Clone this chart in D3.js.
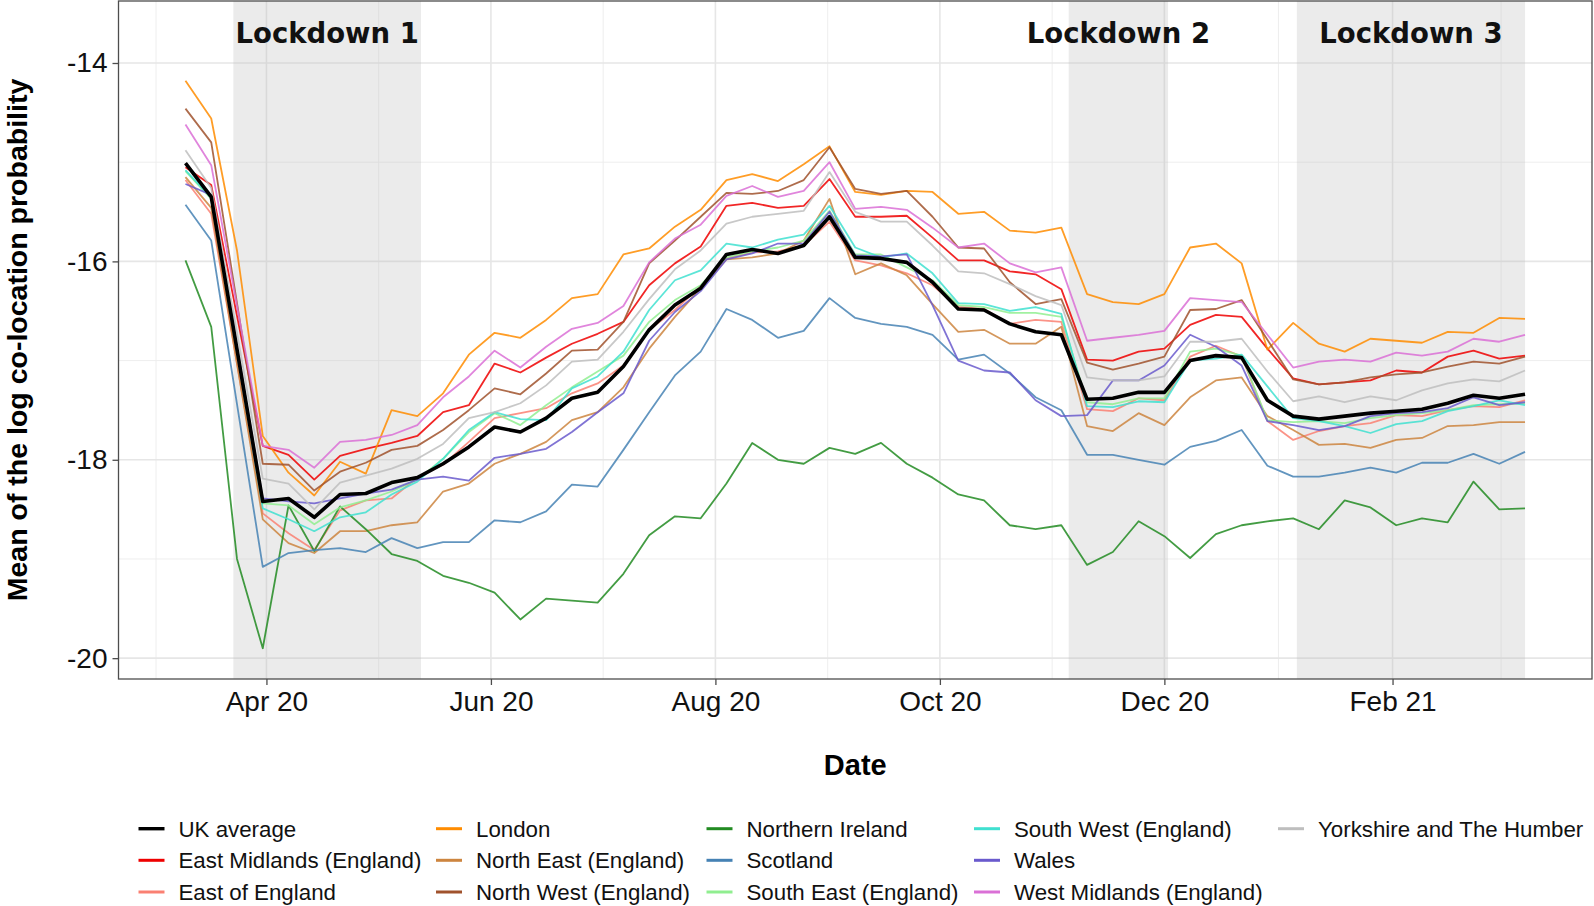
<!DOCTYPE html>
<html>
<head>
<meta charset="utf-8">
<script src="https://cdn.jsdelivr.net/npm/d3@7"></script>
<style>
  body { margin: 0; background: #fff; }
  svg { display: block; font-family: "Liberation Sans", Arial, sans-serif; }
</style>
</head>
<body>
<div id="chart"></div>
<script>
// weekly dates (Tuesdays) of the series
const dates = [
  "2020-03-10","2020-03-17","2020-03-24","2020-03-31","2020-04-07","2020-04-14","2020-04-21","2020-04-28",
  "2020-05-05","2020-05-12","2020-05-19","2020-05-26","2020-06-02","2020-06-09","2020-06-16","2020-06-23",
  "2020-06-30","2020-07-07","2020-07-14","2020-07-21","2020-07-28","2020-08-04","2020-08-11","2020-08-18",
  "2020-08-25","2020-09-01","2020-09-08","2020-09-15","2020-09-22","2020-09-29","2020-10-06","2020-10-13",
  "2020-10-20","2020-10-27","2020-11-03","2020-11-10","2020-11-17","2020-11-24","2020-12-01","2020-12-08",
  "2020-12-15","2020-12-22","2020-12-29","2021-01-05","2021-01-12","2021-01-19","2021-01-26","2021-02-02",
  "2021-02-09","2021-02-16","2021-02-23","2021-03-02","2021-03-09"
];

const ukAverage = [-15.01,-15.35,-16.89,-18.42,-18.39,-18.58,-18.35,-18.34,-18.23,-18.18,-18.04,-17.87,-17.67,-17.72,-17.58,-17.38,-17.32,-17.06,-16.69,-16.44,-16.27,-15.93,-15.88,-15.92,-15.84,-15.55,-15.96,-15.97,-16.01,-16.21,-16.48,-16.49,-16.63,-16.71,-16.74,-17.39,-17.38,-17.32,-17.32,-17.00,-16.95,-16.97,-17.40,-17.56,-17.59,-17.56,-17.53,-17.51,-17.49,-17.43,-17.35,-17.38,-17.34];
const eastMidlands = [-15.05,-15.23,-16.55,-17.86,-17.95,-18.20,-17.96,-17.89,-17.83,-17.76,-17.52,-17.45,-17.03,-17.12,-16.97,-16.83,-16.73,-16.61,-16.24,-16.02,-15.85,-15.44,-15.41,-15.46,-15.44,-15.17,-15.55,-15.55,-15.54,-15.76,-15.99,-15.99,-16.10,-16.13,-16.28,-16.99,-17.00,-16.91,-16.88,-16.64,-16.54,-16.56,-16.88,-17.18,-17.24,-17.22,-17.20,-17.10,-17.12,-16.96,-16.90,-16.98,-16.95];
const eastOfEngland = [-15.18,-15.52,-17.03,-18.54,-18.74,-18.91,-18.51,-18.41,-18.39,-18.18,-18.05,-17.82,-17.58,-17.53,-17.48,-17.33,-17.23,-17.05,-16.69,-16.49,-16.25,-15.97,-15.91,-15.90,-15.84,-15.60,-15.99,-16.04,-16.12,-16.24,-16.46,-16.48,-16.63,-16.59,-16.61,-17.49,-17.51,-17.38,-17.40,-16.96,-16.85,-16.96,-17.61,-17.80,-17.71,-17.66,-17.63,-17.55,-17.56,-17.50,-17.46,-17.47,-17.40];
const london = [-14.18,-14.56,-15.89,-17.76,-18.13,-18.36,-18.02,-18.14,-17.50,-17.56,-17.33,-16.94,-16.72,-16.77,-16.59,-16.37,-16.33,-15.93,-15.87,-15.65,-15.48,-15.18,-15.12,-15.19,-15.02,-14.84,-15.30,-15.33,-15.29,-15.30,-15.52,-15.50,-15.69,-15.71,-15.66,-16.33,-16.41,-16.43,-16.33,-15.86,-15.82,-16.02,-16.89,-16.62,-16.83,-16.91,-16.78,-16.80,-16.82,-16.71,-16.72,-16.57,-16.58];
const northEast = [-15.15,-15.46,-17.03,-18.60,-18.84,-18.94,-18.72,-18.72,-18.66,-18.63,-18.32,-18.24,-18.04,-17.94,-17.82,-17.60,-17.52,-17.27,-16.88,-16.56,-16.27,-15.98,-15.96,-15.92,-15.79,-15.37,-16.13,-16.02,-16.14,-16.43,-16.71,-16.69,-16.83,-16.83,-16.66,-17.66,-17.71,-17.53,-17.65,-17.37,-17.20,-17.17,-17.56,-17.70,-17.85,-17.84,-17.88,-17.80,-17.78,-17.66,-17.65,-17.62,-17.62];
const northWest = [-14.46,-14.80,-16.42,-18.04,-18.05,-18.31,-18.12,-18.03,-17.90,-17.86,-17.70,-17.50,-17.28,-17.34,-17.13,-16.90,-16.89,-16.61,-16.02,-15.79,-15.55,-15.31,-15.32,-15.29,-15.18,-14.85,-15.27,-15.32,-15.29,-15.55,-15.86,-15.87,-16.21,-16.43,-16.38,-17.02,-17.09,-17.03,-16.96,-16.49,-16.48,-16.39,-16.79,-17.19,-17.24,-17.22,-17.17,-17.14,-17.12,-17.06,-17.01,-17.03,-16.96];
const northernIreland = [-15.99,-16.66,-19.00,-19.90,-18.46,-18.92,-18.47,-18.70,-18.95,-19.02,-19.17,-19.24,-19.34,-19.61,-19.40,-19.42,-19.44,-19.15,-18.76,-18.57,-18.59,-18.24,-17.83,-18.00,-18.04,-17.88,-17.94,-17.83,-18.04,-18.18,-18.35,-18.41,-18.66,-18.70,-18.66,-19.06,-18.93,-18.62,-18.77,-18.99,-18.75,-18.66,-18.62,-18.59,-18.70,-18.41,-18.48,-18.66,-18.59,-18.63,-18.22,-18.50,-18.49];
const scotland = [-15.43,-15.79,-17.44,-19.08,-18.94,-18.91,-18.89,-18.93,-18.79,-18.89,-18.83,-18.83,-18.61,-18.63,-18.52,-18.25,-18.27,-17.90,-17.52,-17.15,-16.91,-16.48,-16.59,-16.77,-16.70,-16.37,-16.57,-16.63,-16.66,-16.74,-16.99,-16.94,-17.13,-17.37,-17.50,-17.95,-17.95,-18.00,-18.05,-17.87,-17.81,-17.70,-18.06,-18.17,-18.17,-18.13,-18.08,-18.13,-18.03,-18.03,-17.94,-18.04,-17.92];
const southEast = [-15.09,-15.37,-16.90,-18.44,-18.46,-18.65,-18.48,-18.41,-18.32,-18.20,-17.99,-17.72,-17.53,-17.65,-17.45,-17.27,-17.11,-16.95,-16.61,-16.39,-16.24,-15.96,-15.90,-15.86,-15.79,-15.49,-15.93,-15.93,-16.06,-16.19,-16.44,-16.46,-16.52,-16.52,-16.56,-17.42,-17.44,-17.38,-17.38,-16.91,-16.88,-16.95,-17.60,-17.62,-17.61,-17.63,-17.58,-17.55,-17.53,-17.50,-17.45,-17.44,-17.43];
const southWest = [-15.08,-15.36,-16.92,-18.49,-18.60,-18.72,-18.58,-18.53,-18.35,-18.22,-17.99,-17.70,-17.52,-17.59,-17.60,-17.28,-17.16,-16.91,-16.49,-16.19,-16.09,-15.82,-15.86,-15.78,-15.73,-15.44,-15.86,-15.96,-15.92,-16.12,-16.42,-16.43,-16.50,-16.46,-16.53,-17.46,-17.47,-17.41,-17.42,-17.00,-16.98,-16.94,-17.26,-17.58,-17.61,-17.66,-17.73,-17.64,-17.61,-17.51,-17.46,-17.40,-17.45];
const wales = [-15.22,-15.33,-16.86,-18.39,-18.42,-18.44,-18.39,-18.34,-18.30,-18.20,-18.17,-18.21,-17.98,-17.94,-17.89,-17.72,-17.52,-17.33,-16.80,-16.51,-16.30,-15.98,-15.92,-15.82,-15.82,-15.50,-15.94,-15.95,-15.93,-16.44,-17.00,-17.10,-17.12,-17.40,-17.56,-17.55,-17.20,-17.20,-17.05,-16.74,-16.86,-17.05,-17.61,-17.65,-17.70,-17.66,-17.56,-17.53,-17.52,-17.48,-17.37,-17.45,-17.42];
const westMidlands = [-14.62,-15.03,-16.45,-17.86,-17.90,-18.08,-17.82,-17.80,-17.75,-17.65,-17.37,-17.16,-16.90,-17.07,-16.86,-16.68,-16.62,-16.45,-16.01,-15.77,-15.63,-15.34,-15.24,-15.35,-15.29,-15.00,-15.47,-15.45,-15.48,-15.66,-15.86,-15.82,-16.02,-16.11,-16.06,-16.80,-16.77,-16.74,-16.70,-16.37,-16.39,-16.41,-16.74,-17.07,-17.01,-16.99,-17.01,-16.92,-16.95,-16.91,-16.78,-16.81,-16.74];
const yorkshire = [-14.88,-15.26,-16.72,-18.19,-18.24,-18.50,-18.23,-18.16,-18.09,-17.99,-17.84,-17.58,-17.52,-17.43,-17.25,-17.01,-16.99,-16.71,-16.38,-16.08,-15.89,-15.62,-15.55,-15.52,-15.49,-15.10,-15.50,-15.60,-15.60,-15.84,-16.10,-16.12,-16.23,-16.35,-16.44,-17.17,-17.20,-17.20,-17.16,-16.81,-16.81,-16.78,-17.11,-17.41,-17.36,-17.42,-17.36,-17.40,-17.30,-17.23,-17.19,-17.21,-17.10];

const seriesNames = ["UK average","East Midlands (England)","East of England","London","North East (England)",
  "North West (England)","Northern Ireland","Scotland","South East (England)","South West (England)",
  "Wales","West Midlands (England)","Yorkshire and The Humber"];
const seriesValues = [ukAverage, eastMidlands, eastOfEngland, london, northEast, northWest,
  northernIreland, scotland, southEast, southWest, wales, westMidlands, yorkshire];
const seriesColours = ["#000000","#ee0000","#fa8072","#ff8c00","#cd853f","#a0522d",
  "#228b22","#4682b4","#90ee90","#40e0d0","#6a5acd","#da70d6","#bebebe"];

const lockdowns = [
  { label: "Lockdown 1", start: "2020-03-23", end: "2020-05-13" },
  { label: "Lockdown 2", start: "2020-11-05", end: "2020-12-02" },
  { label: "Lockdown 3", start: "2021-01-06", end: "2021-03-09" }
];

const majorBreaks = ["2020-02-01","2020-04-01","2020-06-01","2020-08-01","2020-10-01","2020-12-01","2021-02-01","2021-04-01"];
const yMajor = [-20, -18, -16, -14];
const yMinor = [-19, -17, -15];

const parse = d3.utcParse("%Y-%m-%d");
const W = 1594, H = 906;
const panel = { left: 118.5, right: 1592, top: 1, bottom: 679 };

const series = seriesNames.map((name, k) => ({
  name, colour: seriesColours[k],
  points: dates.map((d, i) => ({ date: parse(d), value: seriesValues[k][i] }))
}));

// ggplot-style 5% expansion on the date range
const first = parse(dates[0]), last = parse(dates[dates.length - 1]);
const pad = (last - first) * 0.05;
const x = d3.scaleUtc()
  .domain([new Date(+first - pad), new Date(+last + pad)])
  .range([panel.left, panel.right]);
const y = d3.scaleLinear().domain([-20.21, -13.375]).range([panel.bottom, panel.top]);

const svg = d3.select("#chart").append("svg").attr("width", W).attr("height", H);

svg.append("defs").append("clipPath").attr("id", "clip")
  .append("rect")
  .attr("x", panel.left).attr("y", panel.top)
  .attr("width", panel.right - panel.left).attr("height", panel.bottom - panel.top);

const plot = svg.append("g").attr("clip-path", "url(#clip)");

// grid: minor lines halfway between major breaks
const xMajor = majorBreaks.map(parse);
const xMinor = d3.pairs(xMajor).map(([a, b]) => new Date((+a + +b) / 2));
const grid = plot.append("g").attr("fill", "none");
grid.selectAll(".xminor").data(xMinor).join("line")
  .attr("x1", d => x(d)).attr("x2", d => x(d))
  .attr("y1", panel.top).attr("y2", panel.bottom)
  .attr("stroke", "#ececec").attr("stroke-width", 0.9);
grid.selectAll(".yminor").data(yMinor).join("line")
  .attr("y1", d => y(d)).attr("y2", d => y(d))
  .attr("x1", panel.left).attr("x2", panel.right)
  .attr("stroke", "#ececec").attr("stroke-width", 0.9);
grid.selectAll(".xmajor").data(xMajor).join("line")
  .attr("x1", d => x(d)).attr("x2", d => x(d))
  .attr("y1", panel.top).attr("y2", panel.bottom)
  .attr("stroke", "#e6e6e6").attr("stroke-width", 1.6);
grid.selectAll(".ymajor").data(yMajor).join("line")
  .attr("y1", d => y(d)).attr("y2", d => y(d))
  .attr("x1", panel.left).attr("x2", panel.right)
  .attr("stroke", "#e6e6e6").attr("stroke-width", 1.6);

// lockdown shading
plot.append("g").selectAll("rect").data(lockdowns).join("rect")
  .attr("x", d => x(parse(d.start)))
  .attr("width", d => x(parse(d.end)) - x(parse(d.start)))
  .attr("y", panel.top).attr("height", panel.bottom - panel.top)
  .attr("fill", "#bebebe").attr("fill-opacity", 0.3);

// lines: regions first, UK average on top
const line = d3.line().x(d => x(d.date)).y(d => y(d.value));
plot.append("g").selectAll("path").data(series.slice(1)).join("path")
  .attr("d", d => line(d.points))
  .attr("fill", "none")
  .attr("stroke", d => d.colour)
  .attr("stroke-opacity", 0.85)
  .attr("stroke-width", 1.8)
  .attr("stroke-linejoin", "round");
plot.append("path")
  .attr("d", line(series[0].points))
  .attr("fill", "none")
  .attr("stroke", "#000")
  .attr("stroke-width", 3.6)
  .attr("stroke-linejoin", "round");

// lockdown labels
svg.append("g").selectAll("text").data(lockdowns).join("text")
  .attr("x", d => x(new Date((+parse(d.start) + +parse(d.end)) / 2)))
  .attr("y", 43)
  .attr("text-anchor", "middle")
  .style("font-family", "'DejaVu Sans', Verdana, sans-serif")
  .style("font-weight", "bold")
  .style("font-size", "27.5px")
  .attr("fill", "#111")
  .text(d => d.label);

// panel border
svg.append("rect")
  .attr("x", panel.left).attr("y", panel.top)
  .attr("width", panel.right - panel.left).attr("height", panel.bottom - panel.top)
  .attr("fill", "none").attr("stroke", "#4d4d4d").attr("stroke-width", 1.3);

// axes
const xAxis = d3.axisBottom(x)
  .tickValues(xMajor.filter(d => d >= x.domain()[0] && d <= x.domain()[1]))
  .tickFormat(d3.utcFormat("%b %y"))
  .tickSize(6).tickPadding(6);
const gx = svg.append("g").attr("transform", `translate(0,${panel.bottom})`).call(xAxis);
gx.select(".domain").remove();
gx.selectAll(".tick line").attr("stroke", "#4d4d4d").attr("stroke-width", 1.3);
gx.selectAll(".tick text").attr("fill", "#111").style("font-size", "28px")
  .style("font-family", "'Liberation Sans', Arial, sans-serif").attr("dy", "0.71em");

const yAxis = d3.axisLeft(y).tickValues(yMajor).tickFormat(d => String(d)).tickSize(6).tickPadding(5);
const gy = svg.append("g").attr("transform", `translate(${panel.left},0)`).call(yAxis);
gy.select(".domain").remove();
gy.selectAll(".tick line").attr("stroke", "#4d4d4d").attr("stroke-width", 1.3);
gy.selectAll(".tick text").attr("fill", "#111").style("font-size", "28px")
  .style("font-family", "'Liberation Sans', Arial, sans-serif");

// axis titles
svg.append("text")
  .attr("x", (panel.left + panel.right) / 2).attr("y", 775)
  .attr("text-anchor", "middle")
  .style("font-weight", "bold").style("font-size", "29px")
  .attr("fill", "#000")
  .text("Date");
svg.append("text")
  .attr("transform", `translate(27,${(panel.top + panel.bottom) / 2}) rotate(-90)`)
  .attr("text-anchor", "middle")
  .style("font-weight", "bold").style("font-size", "28.5px")
  .attr("fill", "#000")
  .text("Mean of the log co-location probability");

// legend, filled column by column, three rows
const legendCols = [138.5, 436, 706.5, 974, 1278];
const legendRows = [836.7, 868.3, 900];
const legend = svg.append("g").selectAll("g").data(series).join("g")
  .attr("transform", (d, i) => `translate(${legendCols[Math.floor(i / 3)]},${legendRows[i % 3]})`);
legend.append("line")
  .attr("x1", 0).attr("x2", 26).attr("y1", -8).attr("y2", -8)
  .attr("stroke", d => d.colour)
  .attr("stroke-width", (d, i) => i === 0 ? 3.4 : 3);
legend.append("text")
  .attr("x", 40).attr("y", 0)
  .style("font-size", "22.3px")
  .attr("fill", "#111")
  .text(d => d.name);
</script>
</body>
</html>
